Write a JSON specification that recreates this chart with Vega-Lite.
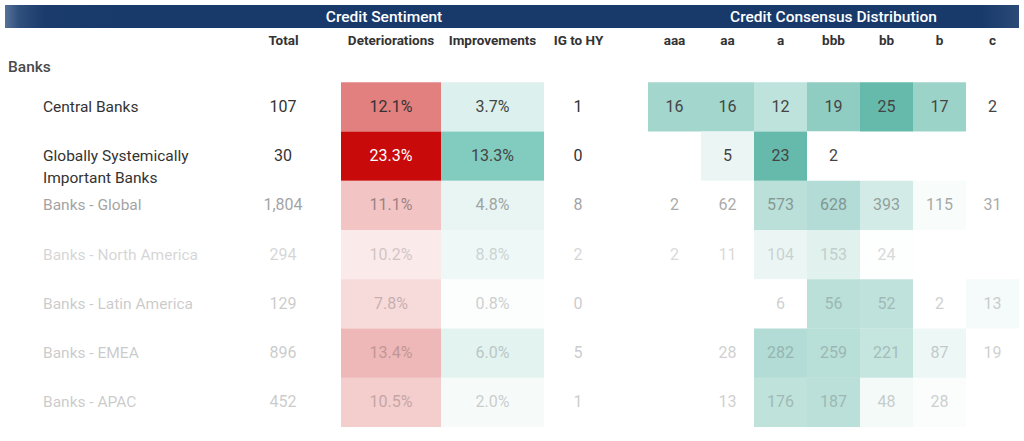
{
  "$schema": "https://vega.github.io/schema/vega-lite/v6.json",
  "padding": 5,
  "background": "#ffffff",
  "config": {"view": {"stroke": null}, "font": "Roboto", "text": {"font": "Roboto"}},
  "datasets": {
    "tbl": [
      {"row": "Central Banks", "total": 107, "det": 0.121, "imp": 0.037, "ig": 1, "aaa": 16, "aa": 16, "a": 12, "bbb": 19, "bb": 25, "b": 17, "c": 2},
      {"row": "Globally Systemically\nImportant Banks", "total": 30, "det": 0.233, "imp": 0.133, "ig": 0, "aaa": null, "aa": 5, "a": 23, "bbb": 2, "bb": null, "b": null, "c": null},
      {"row": "Banks - Global", "total": 1804, "det": 0.111, "imp": 0.048, "ig": 8, "aaa": 2, "aa": 62, "a": 573, "bbb": 628, "bb": 393, "b": 115, "c": 31},
      {"row": "Banks - North America", "total": 294, "det": 0.102, "imp": 0.088, "ig": 2, "aaa": 2, "aa": 11, "a": 104, "bbb": 153, "bb": 24, "b": null, "c": null},
      {"row": "Banks - Latin America", "total": 129, "det": 0.078, "imp": 0.008, "ig": 0, "aaa": null, "aa": null, "a": 6, "bbb": 56, "bb": 52, "b": 2, "c": 13},
      {"row": "Banks - EMEA", "total": 896, "det": 0.134, "imp": 0.06, "ig": 5, "aaa": null, "aa": 28, "a": 282, "bbb": 259, "bb": 221, "b": 87, "c": 19},
      {"row": "Banks - APAC", "total": 452, "det": 0.105, "imp": 0.02, "ig": 1, "aaa": null, "aa": 13, "a": 176, "bbb": 187, "bb": 48, "b": 28, "c": null}
    ]
  },
  "spacing": 5,
  "resolve": {"scale": {"x": "independent", "y": "independent", "color": "independent", "opacity": "independent"}},
  "vconcat": [
    {
      "spacing": 0,
      "bounds": "flush",
      "resolve": {"scale": {"x": "independent", "y": "independent", "color": "independent"}},
      "hconcat": [
        {
          "width": 115, "height": 23,
          "data": {"values": [{"t": ""}]},
          "mark": {"type": "rect", "color": {"gradient": "linear", "x1": 0, "x2": 1, "y1": 0, "y2": 0, "stops": [{"offset": 0, "color": "#56729a"}, {"offset": 0.12, "color": "#2f4f7c"}, {"offset": 0.35, "color": "#1a3b6b"}, {"offset": 1, "color": "#183a6b"}]}},
          "encoding": {}
        },
        {
          "width": 528, "height": 23,
          "data": {"values": [{"t": "Credit Sentiment"}]},
          "layer": [
            {"mark": {"type": "rect", "color": "#183a6b"}, "encoding": {}},
            {"mark": {"type": "text", "color": "#ffffff", "fontSize": 15.5, "fontWeight": 500, "baseline": "middle"}, "encoding": {"text": {"field": "t"}}}
          ]
        },
        {
          "width": 371, "height": 23,
          "data": {"values": [{"t": "Credit Consensus Distribution"}]},
          "layer": [
            {"mark": {"type": "rect", "color": {"gradient": "linear", "x1": 0, "x2": 1, "y1": 0, "y2": 0, "stops": [{"offset": 0, "color": "#183a6b"}, {"offset": 0.9, "color": "#183a6b"}, {"offset": 1, "color": "#2b4a77"}]}}, "encoding": {}},
            {"mark": {"type": "text", "color": "#ffffff", "fontSize": 15.5, "fontWeight": 500, "baseline": "middle"}, "encoding": {"text": {"field": "t"}}}
          ]
        }
      ]
    },
    {
      "spacing": 0,
      "bounds": "flush",
      "resolve": {"scale": {"x": "independent", "y": "independent", "color": "independent", "opacity": "independent"}},
      "hconcat": [
        {
          "width": 228, "height": 394,
          "layer": [
            {
              "data": {"values": [{"row": "Banks"}]},
              "mark": {"type": "text", "align": "left", "baseline": "middle", "dx": -111, "dy": 9, "fontSize": 15.5, "fontWeight": 500, "color": "#4a4a4a"},
              "encoding": {
                "x": {"datum": "lbl", "type": "nominal", "axis": null, "scale": {"domain": ["lbl"], "paddingInner": 0, "paddingOuter": 0}},
                "y": {"field": "row", "type": "nominal", "axis": null, "scale": {"domain": ["Banks", "Central Banks", "Globally Systemically\nImportant Banks", "Banks - Global", "Banks - North America", "Banks - Latin America", "Banks - EMEA", "Banks - APAC"], "paddingInner": 0, "paddingOuter": 0}},
                "text": {"field": "row"}
              }
            },
            {
              "data": {"name": "tbl"},
              "mark": {"type": "text", "align": "left", "baseline": "middle", "dx": -76, "fontSize": 15.5, "color": "#333333", "lineBreak": "\n", "lineHeight": 22},
              "encoding": {
                "x": {"datum": "lbl", "type": "nominal", "axis": null, "scale": {"domain": ["lbl"], "paddingInner": 0, "paddingOuter": 0}},
                "y": {"field": "row", "type": "nominal", "axis": null, "scale": {"domain": ["Banks", "Central Banks", "Globally Systemically\nImportant Banks", "Banks - Global", "Banks - North America", "Banks - Latin America", "Banks - EMEA", "Banks - APAC"], "paddingInner": 0, "paddingOuter": 0}},
                "text": {"field": "row"},
                "opacity": {"field": "row", "type": "ordinal", "legend": null, "scale": {"type": "ordinal", "domain": ["Central Banks", "Globally Systemically\nImportant Banks", "Banks - Global", "Banks - North America", "Banks - Latin America", "Banks - EMEA", "Banks - APAC"], "range": [1, 1, 0.45, 0.2, 0.25, 0.25, 0.25]}}
              }
            }
          ]
        },
        {
          "width": 100, "height": 394,
          "data": {"name": "tbl"},
          "mark": {"type": "text", "baseline": "middle", "fontSize": 16, "color": "#333333"},
          "encoding": {
            "x": {"datum": "Total", "type": "nominal", "scale": {"domain": ["Total"], "paddingInner": 0, "paddingOuter": 0}, "axis": {"orient": "top", "title": null, "domain": false, "ticks": false, "tickSize": 0, "labelPadding": -7, "labelBaseline": "middle", "labelAngle": 0, "labelFont": "Roboto", "labelFontSize": 13.5, "labelFontWeight": "bold", "labelColor": "#333333"}},
            "y": {"field": "row", "type": "nominal", "axis": null, "scale": {"domain": ["Banks", "Central Banks", "Globally Systemically\nImportant Banks", "Banks - Global", "Banks - North America", "Banks - Latin America", "Banks - EMEA", "Banks - APAC"], "paddingInner": 0, "paddingOuter": 0}},
            "text": {"field": "total", "type": "quantitative", "format": ","},
            "opacity": {"field": "row", "type": "ordinal", "legend": null, "scale": {"type": "ordinal", "domain": ["Central Banks", "Globally Systemically\nImportant Banks", "Banks - Global", "Banks - North America", "Banks - Latin America", "Banks - EMEA", "Banks - APAC"], "range": [1, 1, 0.45, 0.2, 0.25, 0.25, 0.25]}}
          }
        },
        {
          "width": 8, "height": 394,
          "data": {"values": [{"t": ""}]},
          "mark": {"type": "rect", "opacity": 0},
          "encoding": {}
        },
        {
          "width": 100, "height": 394,
          "data": {"name": "tbl"},
          "resolve": {"scale": {"opacity": "independent"}},
          "encoding": {
            "x": {"datum": "Deteriorations", "type": "nominal", "scale": {"domain": ["Deteriorations"], "paddingInner": 0, "paddingOuter": 0}, "axis": {"orient": "top", "title": null, "domain": false, "ticks": false, "tickSize": 0, "labelPadding": -7, "labelBaseline": "middle", "labelAngle": 0, "labelFont": "Roboto", "labelFontSize": 13.5, "labelFontWeight": "bold", "labelColor": "#333333"}},
            "y": {"field": "row", "type": "nominal", "axis": null, "scale": {"domain": ["Banks", "Central Banks", "Globally Systemically\nImportant Banks", "Banks - Global", "Banks - North America", "Banks - Latin America", "Banks - EMEA", "Banks - APAC"], "paddingInner": 0, "paddingOuter": 0}}
          },
          "layer": [
            {
              "mark": {"type": "rect"},
              "encoding": {
                "color": {"field": "det", "type": "quantitative", "legend": null, "scale": {"domain": [0, 0.233], "range": ["#ffffff", "#c80a0a"], "interpolate": "rgb"}},
                "opacity": {"field": "row", "type": "ordinal", "legend": null, "scale": {"type": "ordinal", "domain": ["Central Banks", "Globally Systemically\nImportant Banks", "Banks - Global", "Banks - North America", "Banks - Latin America", "Banks - EMEA", "Banks - APAC"], "range": [1, 1, 0.5, 0.2, 0.45, 0.5, 0.45]}}
              }
            },
            {
              "mark": {"type": "text", "baseline": "middle", "fontSize": 16},
              "encoding": {
                "text": {"field": "det", "type": "quantitative", "format": ".1%"},
                "color": {"condition": {"test": "datum.det > 0.2", "value": "#ffffff"}, "value": "#333333"},
                "opacity": {"field": "row", "type": "ordinal", "legend": null, "scale": {"type": "ordinal", "domain": ["Central Banks", "Globally Systemically\nImportant Banks", "Banks - Global", "Banks - North America", "Banks - Latin America", "Banks - EMEA", "Banks - APAC"], "range": [1, 1, 0.45, 0.2, 0.25, 0.25, 0.25]}}
              }
            }
          ]
        },
        {
          "width": 103, "height": 394,
          "data": {"name": "tbl"},
          "resolve": {"scale": {"opacity": "independent"}},
          "encoding": {
            "x": {"datum": "Improvements", "type": "nominal", "scale": {"domain": ["Improvements"], "paddingInner": 0, "paddingOuter": 0}, "axis": {"orient": "top", "title": null, "domain": false, "ticks": false, "tickSize": 0, "labelPadding": -7, "labelBaseline": "middle", "labelAngle": 0, "labelFont": "Roboto", "labelFontSize": 13.5, "labelFontWeight": "bold", "labelColor": "#333333"}},
            "y": {"field": "row", "type": "nominal", "axis": null, "scale": {"domain": ["Banks", "Central Banks", "Globally Systemically\nImportant Banks", "Banks - Global", "Banks - North America", "Banks - Latin America", "Banks - EMEA", "Banks - APAC"], "paddingInner": 0, "paddingOuter": 0}}
          },
          "layer": [
            {
              "mark": {"type": "rect"},
              "encoding": {
                "color": {"field": "imp", "type": "quantitative", "legend": null, "scale": {"domain": [0, 0.133], "range": ["#ffffff", "#82cbbf"], "interpolate": "rgb"}},
                "opacity": {"field": "row", "type": "ordinal", "legend": null, "scale": {"type": "ordinal", "domain": ["Central Banks", "Globally Systemically\nImportant Banks", "Banks - Global", "Banks - North America", "Banks - Latin America", "Banks - EMEA", "Banks - APAC"], "range": [1, 1, 0.5, 0.2, 0.45, 0.5, 0.45]}}
              }
            },
            {
              "mark": {"type": "text", "baseline": "middle", "fontSize": 16, "color": "#444444"},
              "encoding": {
                "text": {"field": "imp", "type": "quantitative", "format": ".1%"},
                "opacity": {"field": "row", "type": "ordinal", "legend": null, "scale": {"type": "ordinal", "domain": ["Central Banks", "Globally Systemically\nImportant Banks", "Banks - Global", "Banks - North America", "Banks - Latin America", "Banks - EMEA", "Banks - APAC"], "range": [1, 1, 0.45, 0.2, 0.25, 0.25, 0.25]}}
              }
            }
          ]
        },
        {
          "width": 68, "height": 394,
          "data": {"name": "tbl"},
          "mark": {"type": "text", "baseline": "middle", "fontSize": 16, "color": "#333333"},
          "encoding": {
            "x": {"datum": "IG to HY", "type": "nominal", "scale": {"domain": ["IG to HY"], "paddingInner": 0, "paddingOuter": 0}, "axis": {"orient": "top", "title": null, "domain": false, "ticks": false, "tickSize": 0, "labelPadding": -7, "labelBaseline": "middle", "labelAngle": 0, "labelFont": "Roboto", "labelFontSize": 13.5, "labelFontWeight": "bold", "labelColor": "#333333"}},
            "y": {"field": "row", "type": "nominal", "axis": null, "scale": {"domain": ["Banks", "Central Banks", "Globally Systemically\nImportant Banks", "Banks - Global", "Banks - North America", "Banks - Latin America", "Banks - EMEA", "Banks - APAC"], "paddingInner": 0, "paddingOuter": 0}},
            "text": {"field": "ig", "type": "quantitative"},
            "opacity": {"field": "row", "type": "ordinal", "legend": null, "scale": {"type": "ordinal", "domain": ["Central Banks", "Globally Systemically\nImportant Banks", "Banks - Global", "Banks - North America", "Banks - Latin America", "Banks - EMEA", "Banks - APAC"], "range": [1, 1, 0.45, 0.2, 0.25, 0.25, 0.25]}}
          }
        },
        {
          "width": 36, "height": 394,
          "data": {"values": [{"t": ""}]},
          "mark": {"type": "rect", "opacity": 0},
          "encoding": {}
        },
        {
          "width": 371, "height": 394,
          "data": {"name": "tbl"},
          "transform": [
            {"fold": ["aaa", "aa", "a", "bbb", "bb", "b", "c"], "as": ["grade", "n"]},
            {"filter": "isValid(datum.n)"},
            {"joinaggregate": [{"op": "max", "field": "n", "as": "rowmax"}], "groupby": ["row"]},
            {"calculate": "datum.n / datum.rowmax", "as": "rel"}
          ],
          "resolve": {"scale": {"opacity": "independent"}},
          "encoding": {
            "x": {"field": "grade", "type": "nominal", "sort": ["aaa", "aa", "a", "bbb", "bb", "b", "c"], "scale": {"domain": ["aaa", "aa", "a", "bbb", "bb", "b", "c"], "paddingInner": 0, "paddingOuter": 0}, "axis": {"orient": "top", "title": null, "domain": false, "ticks": false, "tickSize": 0, "labelPadding": -7, "labelBaseline": "middle", "labelAngle": 0, "labelFont": "Roboto", "labelFontSize": 13.5, "labelFontWeight": "bold", "labelColor": "#333333"}},
            "y": {"field": "row", "type": "nominal", "axis": null, "scale": {"domain": ["Banks", "Central Banks", "Globally Systemically\nImportant Banks", "Banks - Global", "Banks - North America", "Banks - Latin America", "Banks - EMEA", "Banks - APAC"], "paddingInner": 0, "paddingOuter": 0}}
          },
          "layer": [
            {
              "mark": {"type": "rect"},
              "encoding": {
                "color": {"field": "rel", "type": "quantitative", "legend": null, "scale": {"domain": [0.1, 1], "range": ["#ffffff", "#66baab"], "interpolate": "rgb", "clamp": true}},
                "opacity": {"field": "row", "type": "ordinal", "legend": null, "scale": {"type": "ordinal", "domain": ["Central Banks", "Globally Systemically\nImportant Banks", "Banks - Global", "Banks - North America", "Banks - Latin America", "Banks - EMEA", "Banks - APAC"], "range": [1, 1, 0.5, 0.2, 0.45, 0.5, 0.45]}}
              }
            },
            {
              "mark": {"type": "text", "baseline": "middle", "fontSize": 16, "color": "#444444"},
              "encoding": {
                "text": {"field": "n", "type": "quantitative"},
                "opacity": {"field": "row", "type": "ordinal", "legend": null, "scale": {"type": "ordinal", "domain": ["Central Banks", "Globally Systemically\nImportant Banks", "Banks - Global", "Banks - North America", "Banks - Latin America", "Banks - EMEA", "Banks - APAC"], "range": [1, 1, 0.45, 0.2, 0.25, 0.25, 0.25]}}
              }
            }
          ]
        }
      ]
    }
  ]
}
